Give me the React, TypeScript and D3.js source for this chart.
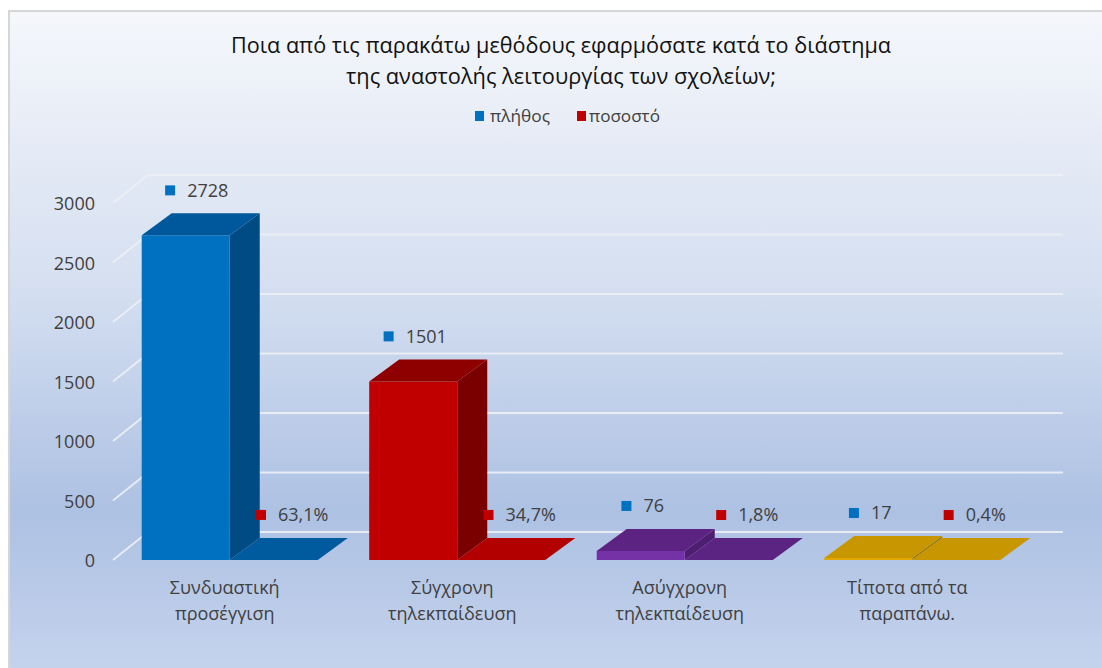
import React from "react";
import * as d3 from "d3";

const categories = [
  ["Συνδυαστική", "προσέγγιση"],
  ["Σύγχρονη", "τηλεκπαίδευση"],
  ["Ασύγχρονη", "τηλεκπαίδευση"],
  ["Τίποτα από τα", "παραπάνω."],
];
const countValues = [2728, 1501, 76, 17];
const pctValues = [0.631, 0.347, 0.018, 0.004];
const yTicks = [0, 500, 1000, 1500, 2000, 2500, 3000];
const seriesNames = ["πλήθος", "ποσοστό"];
const titleLines = [
  "Ποια από τις παρακάτω μεθόδους εφαρμόσατε κατά το διάστημα",
  "της αναστολής λειτουργίας των σχολείων;",
];

const palette = [
  { front: "#0070c0", top: "#00589c", flatTop: "#005a9e", side: "#004b84" },
  { front: "#c00000", top: "#8e0000", flatTop: "#b20000", side: "#7a0000" },
  { front: "#7432a6", top: "#5c2383", flatTop: "#5b2382", side: "#4e1e70" },
  { front: "#e0a800", top: "#c89700", flatTop: "#c89700", side: "#a07800" },
];
const seriesColors = ["#0070c0", "#c00000"];

const W = 1102;
const H = 668;
const FONT = "'Open Sans', 'DejaVu Sans', sans-serif";
const TEXT = "#404040";

export default function App() {
  const y = d3.scaleLinear().domain([0, 3000]).range([560, 203]);
  const x = d3
    .scaleBand<number>()
    .domain(d3.range(categories.length))
    .range([116, 1026])
    .paddingInner(0.226)
    .paddingOuter(0.113);
  const xs = d3.scaleBand<number>().domain([0, 1]).range([0, x.bandwidth()]);
  const wall = { dx: 35, dy: -28 };
  const bar = { dx: 30, dy: -22 };
  const axisX = 113;
  const wallEnd = 1028;

  const box = (x0: number, x1: number, yt: number, yb: number) => {
    const front = `M${x0},${yt}L${x1},${yt}L${x1},${yb}L${x0},${yb}Z`;
    const top = `M${x0},${yt}L${x0 + bar.dx},${yt + bar.dy}L${x1 + bar.dx},${yt + bar.dy}L${x1},${yt}Z`;
    const side = `M${x1},${yt}L${x1 + bar.dx},${yt + bar.dy}L${x1 + bar.dx},${yb + bar.dy}L${x1},${yb}Z`;
    return { front, top, side };
  };

  const fmtPct = (v: number) => (v * 100).toFixed(1).replace(".", ",") + "%";

  const label = (cx: number, cy: number, text: string, color: string, key: string) => {
    const tw = text.length * 10.3;
    const total = 10 + 12 + tw;
    const left = cx - total / 2;
    return (
      <g key={key}>
        <rect x={left} y={cy - 5} width={10} height={10} fill={color} />
        <text x={left + 22} y={cy + 6.5} fontSize={18} fill={TEXT} fontFamily={FONT}>
          {text}
        </text>
      </g>
    );
  };

  return (
    <svg
      width={W}
      height={H}
      style={{ position: "absolute", left: 0, top: 0, display: "block" }}
    >
      <defs>
        <linearGradient id="bg" x1="0" y1="0" x2="0" y2="1">
          <stop offset="0%" stopColor="#f5f7fb" />
          <stop offset="40%" stopColor="#d6e0f1" />
          <stop offset="75%" stopColor="#adc1e3" />
          <stop offset="100%" stopColor="#c6d4ed" />
        </linearGradient>
      </defs>
      <rect x={0} y={0} width={W} height={H} fill="#ffffff" />
      <rect x={9} y={11} width={W} height={H} fill="url(#bg)" stroke="#d6d6d6" strokeWidth={2} />

      {titleLines.map((t, i) => (
        <text
          key={t}
          x={561}
          y={53 + i * 31}
          textAnchor="middle"
          fontSize={22}
          fill="#111"
          fontFamily={FONT}
          textLength={i === 0 ? 660 : 430}
          lengthAdjust="spacingAndGlyphs"
        >
          {t}
        </text>
      ))}

      {/* legend */}
      <g>
        <rect x={475} y={111} width={9} height={10} fill={seriesColors[0]} />
        <text x={490} y={122} fontSize={17} fill={TEXT} fontFamily={FONT} textLength={60} lengthAdjust="spacingAndGlyphs">
          {seriesNames[0]}
        </text>
        <rect x={577} y={111} width={9} height={10} fill={seriesColors[1]} />
        <text x={589} y={122} fontSize={17} fill={TEXT} fontFamily={FONT} textLength={71} lengthAdjust="spacingAndGlyphs">
          {seriesNames[1]}
        </text>
      </g>

      {/* gridlines */}
      {yTicks.map((t) => (
        <g key={t} stroke="#eef0f5" strokeWidth={2} opacity={0.9}>
          <line x1={axisX} y1={y(t)} x2={axisX + wall.dx} y2={y(t) + wall.dy} />
          <line x1={axisX + wall.dx} y1={y(t) + wall.dy} x2={wallEnd + wall.dx} y2={y(t) + wall.dy} />
        </g>
      ))}

      {/* y tick labels */}
      {yTicks.map((t) => (
        <text key={"l" + t} x={95} y={y(t) + 7} textAnchor="end" fontSize={18} fill={TEXT} fontFamily={FONT}>
          {t}
        </text>
      ))}

      {/* bars */}
      {categories.map((_, i) => {
        const c = palette[i];
        const bx = x(i)!;
        const b1 = box(bx + xs(0)!, bx + xs(0)! + xs.bandwidth(), y(countValues[i]), y(0));
        const b2 = box(bx + xs(1)!, bx + xs(1)! + xs.bandwidth(), y(pctValues[i]), y(0));
        return (
          <g key={"b" + i}>
            <path d={b1.side} fill={c.side} />
            <path d={b1.front} fill={c.front} />
            <path d={b1.top} fill={c.top} />
            <path d={b2.side} fill={c.side} />
            <path d={b2.front} fill={c.front} />
            <path d={b2.top} fill={c.flatTop} />
          </g>
        );
      })}

      {/* data labels */}
      {categories.map((_, i) => {
        const bx = x(i)!;
        const c1 = bx + xs(0)! + xs.bandwidth() / 2 + (i === 0 ? 11 : 2);
        const c2 = bx + xs(1)! + xs.bandwidth() / 2 + 19;
        const y1 = y(countValues[i]) + bar.dy - 23;
        const y2 = y(pctValues[i]) + bar.dy - 23;
        return (
          <g key={"dl" + i}>
            {label(c1, y1, String(countValues[i]), seriesColors[0], "c" + i)}
            {label(c2, y2, fmtPct(pctValues[i]), seriesColors[1], "p" + i)}
          </g>
        );
      })}

      {/* category labels */}
      {categories.map((lines, i) => {
        const cx = x(i)! + x.bandwidth() / 2 - 5;
        return (
          <text key={"cat" + i} textAnchor="middle" fontSize={18} fill={TEXT} fontFamily={FONT}>
            {lines.map((l, j) => (
              <tspan key={j} x={cx} y={594 + j * 26}>
                {l}
              </tspan>
            ))}
          </text>
        );
      })}
    </svg>
  );
}
